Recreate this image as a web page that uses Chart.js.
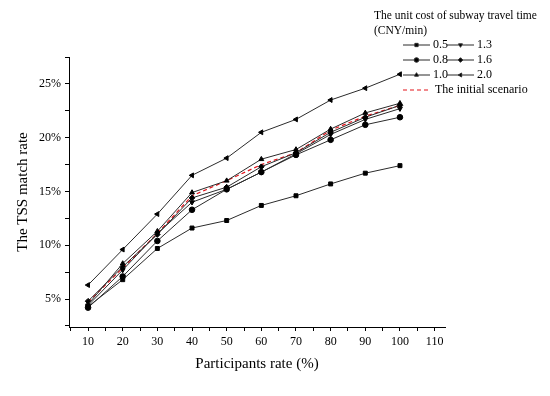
<!DOCTYPE html>
<html>
<head>
<meta charset="utf-8">
<script src="https://cdn.jsdelivr.net/npm/chart.js@4.4.0/dist/chart.umd.min.js"></script>
<style>
  html, body { margin: 0; padding: 0; background: #fff; }
  #wrap { width: 550px; height: 396px; }
</style>
</head>
<body>
<div id="wrap"><canvas id="tssChart" width="550" height="396"></canvas></div>
<script>
// participants rate (%)
const rates = [10, 20, 30, 40, 50, 60, 70, 80, 90, 100];

// TSS match rate (%) per unit cost of subway travel time
const cost05 = [4.3, 6.8, 9.7, 11.6, 12.3, 13.7, 14.6, 15.7, 16.7, 17.4];
const cost08 = [4.2, 7.1, 10.4, 13.3, 15.2, 16.8, 18.4, 19.8, 21.2, 21.9];
const cost10 = [4.5, 8.3, 11.3, 14.9, 16.0, 18.0, 18.9, 20.8, 22.3, 23.2];
const cost13 = [4.4, 7.7, 11.1, 14.0, 15.2, 16.8, 18.5, 20.3, 21.7, 22.7];
const cost16 = [4.8, 8.0, 11.0, 14.4, 15.4, 17.3, 18.6, 20.5, 21.9, 23.0];
const cost20 = [6.3, 9.6, 12.9, 16.5, 18.1, 20.5, 21.7, 23.5, 24.6, 25.9];
const initialScenario = [4.7, 7.9, 11.1, 14.6, 16.0, 17.5, 18.6, 20.7, 22.0, 23.0];

const yTicks = [2.5, 5, 7.5, 10, 12.5, 15, 17.5, 20, 22.5, 25, 27.5];
const xTicks = [5, 10, 15, 20, 25, 30, 35, 40, 45, 50, 55, 60, 65, 70, 75, 80, 85, 90, 95, 100, 105, 110];

function pts(arr) {
  return rates.map((r, i) => ({ x: r, y: arr[i] }));
}

const serif = '"Liberation Serif", "DejaVu Serif", serif';

function series(label, arr, style, rot) {
  return {
    label: label,
    data: pts(arr),
    borderColor: '#2b2b2b',
    backgroundColor: '#000',
    borderWidth: 1,
    pointStyle: style,
    rotation: rot || 0,
    pointRadius: 2.8,
    pointBorderWidth: 1,
    pointBorderColor: '#000',
    pointBackgroundColor: '#000'
  };
}

const datasets = [
  series('0.5', cost05, 'rect'),
  series('0.8', cost08, 'circle'),
  series('1.0', cost10, 'triangle'),
  series('1.3', cost13, 'triangle', 180),
  series('1.6', cost16, 'rectRot'),
  series('2.0', cost20, 'triangle', -90),
  {
    label: 'The initial scenario',
    data: pts(initialScenario),
    borderColor: '#e3141b',
    borderWidth: 1.2,
    borderDash: [4, 3],
    pointRadius: 0
  }
];

// legend drawn by hand, two columns like the original
const legendPlugin = {
  id: 'costLegend',
  afterDraw(chart) {
    const ctx = chart.ctx;
    ctx.save();
    ctx.fillStyle = '#000';
    ctx.font = '11.5px ' + serif;
    ctx.textBaseline = 'middle';
    ctx.fillText('The unit cost of subway travel time', 374, 16);
    ctx.fillText('(CNY/min)', 374, 31);
    ctx.font = '12px ' + serif;
    const cols = [[0, 3], [1, 4], [2, 5]];
    cols.forEach((pair, row) => {
      const y = 45 + row * 15;
      pair.forEach((di, c) => {
        const ds = chart.data.datasets[di];
        const x0 = 403 + c * 44;
        ctx.strokeStyle = '#2b2b2b';
        ctx.lineWidth = 1;
        ctx.beginPath();
        ctx.moveTo(x0, y);
        ctx.lineTo(x0 + 27, y);
        ctx.stroke();
        ctx.fillStyle = '#000';
        Chart.helpers.drawPoint(ctx, { pointStyle: ds.pointStyle, rotation: ds.rotation, radius: 2.3, borderWidth: 1 }, x0 + 13.5, y);
        ctx.fillStyle = '#000';
        ctx.fillText(ds.label, x0 + 30, y);
      });
    });
    const yr = 90;
    ctx.strokeStyle = '#e3141b';
    ctx.lineWidth = 1.2;
    ctx.setLineDash([4, 3]);
    ctx.beginPath();
    ctx.moveTo(403, yr);
    ctx.lineTo(429, yr);
    ctx.stroke();
    ctx.setLineDash([]);
    ctx.fillStyle = '#000';
    ctx.fillText('The initial scenario', 435, yr);
    ctx.restore();
  }
};

const ctx = document.getElementById('tssChart').getContext('2d');
new Chart(ctx, {
  type: 'line',
  data: { datasets: datasets },
  options: {
    responsive: false,
    animation: false,
    layout: { padding: { left: 14, top: 57, right: 105, bottom: 19 } },
    plugins: { legend: { display: false }, tooltip: { enabled: false } },
    scales: {
      x: {
        type: 'linear',
        min: 4.5,
        max: 113,
        afterBuildTicks(scale) { scale.ticks = xTicks.map(v => ({ value: v })); },
        afterFit(scale) { scale.height = 50; },
        border: { display: true, color: '#000', width: 1 },
        grid: { display: true, drawOnChartArea: false, drawTicks: true, tickLength: 4, color: '#000',
          tickWidth: 1 },
        ticks: {
          color: '#000',
          font: { family: serif, size: 12 },
          padding: 4,
          maxRotation: 0,
          autoSkip: false,
          callback: v => (v % 10 === 0 ? String(v) : '')
        },
        title: { display: true, text: 'Participants rate (%)', color: '#000',
          font: { family: serif, size: 15 }, padding: { top: 4 } }
      },
      y: {
        type: 'linear',
        min: 2.4,
        max: 27.5,
        afterBuildTicks(scale) { scale.ticks = yTicks.map(v => ({ value: v })); },
        afterFit(scale) { scale.width = 55; },
        border: { display: true, color: '#000', width: 1 },
        grid: { display: true, drawOnChartArea: false, drawTicks: true, tickLength: 4, color: '#000',
          tickWidth: 1 },
        ticks: {
          color: '#000',
          font: { family: serif, size: 12 },
          padding: 4,
          autoSkip: false,
          callback: v => (v % 5 === 0 ? v + '%' : '')
        },
        title: { display: true, text: 'The TSS match rate', color: '#000',
          font: { family: serif, size: 15 }, padding: 0 }
      }
    }
  },
  plugins: [legendPlugin]
});
</script>
</body>
</html>
